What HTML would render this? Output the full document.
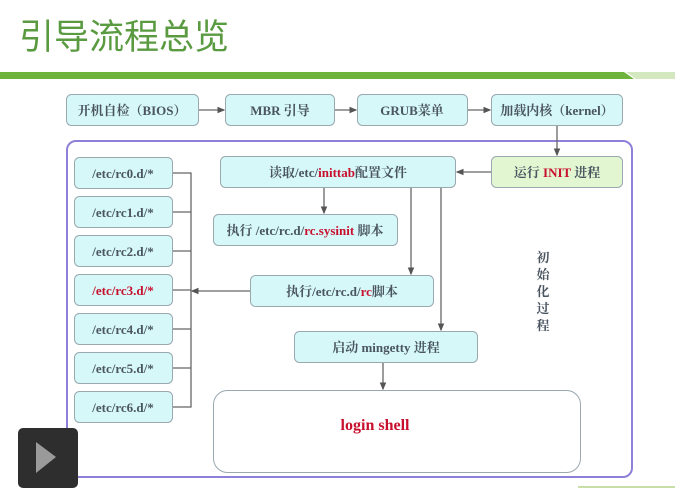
<!DOCTYPE html>
<html><head><meta charset="utf-8"><style>
html,body{margin:0;padding:0;background:#fff;width:675px;height:493px;overflow:hidden}
svg{display:block}
.t{font-family:"Liberation Serif","Noto Serif CJK SC",serif;font-weight:bold;font-size:13px;fill:#4a5560}
.r{fill:#c8102e}
</style></head><body>
<svg width="675" height="493" viewBox="0 0 675 493" xmlns="http://www.w3.org/2000/svg">
<defs><marker id="a" markerWidth="6" markerHeight="6" refX="5" refY="3" orient="auto"><path d="M0,0.5 L6,3 L0,5.5z" fill="#555"/></marker></defs>
<text x="19" y="49" font-family="'Noto Sans CJK SC',sans-serif" font-size="35" fill="#5a9a40">引导流程总览</text>
<polygon points="0,72 624,72 634,79 0,79" fill="#6eb43c"/>
<polygon points="626,72 675,72 675,79 636,79" fill="#d4e8c0"/>
<line x1="578" y1="487" x2="675" y2="487" stroke="#c8e0a8" stroke-width="2"/>
<rect x="67" y="141" width="565" height="336" rx="9" fill="none" stroke="#8e80d8" stroke-width="2"/>
<g fill="#d6f8f8" stroke="#9aa8b0" stroke-width="1">
<rect x="66.5" y="94.5" width="132" height="31" rx="5"/>
<rect x="225.5" y="94.5" width="109" height="31" rx="5"/>
<rect x="357.5" y="94.5" width="110" height="31" rx="5"/>
<rect x="491.5" y="94.5" width="131" height="31" rx="5"/>
<rect x="491.5" y="156.5" width="131" height="31" rx="5" fill="#e2f6d2"/>
<rect x="220.5" y="156.5" width="235" height="31" rx="5"/>
<rect x="213.5" y="214.5" width="184" height="31" rx="5"/>
<rect x="250.5" y="275.5" width="183" height="31" rx="5"/>
<rect x="294.5" y="331.5" width="183" height="31" rx="5"/>
<rect x="74.5" y="157.5" width="98" height="31" rx="5"/>
<rect x="74.5" y="196.5" width="98" height="31" rx="5"/>
<rect x="74.5" y="235.5" width="98" height="31" rx="5"/>
<rect x="74.5" y="274.5" width="98" height="31" rx="5"/>
<rect x="74.5" y="313.5" width="98" height="31" rx="5"/>
<rect x="74.5" y="352.5" width="98" height="31" rx="5"/>
<rect x="74.5" y="391.5" width="98" height="31" rx="5"/>
<rect x="213.5" y="390.5" width="367" height="82" rx="14" fill="#fff"/>
</g>
<g stroke="#666" stroke-width="1.3" fill="none">
<line x1="199" y1="110" x2="224" y2="110" marker-end="url(#a)"/>
<line x1="335" y1="110" x2="356" y2="110" marker-end="url(#a)"/>
<line x1="468" y1="110" x2="490" y2="110" marker-end="url(#a)"/>
<line x1="557" y1="126" x2="557" y2="155" marker-end="url(#a)"/>
<line x1="491" y1="172" x2="457" y2="172" marker-end="url(#a)"/>
<line x1="324" y1="188" x2="324" y2="213" marker-end="url(#a)"/>
<line x1="411" y1="188" x2="411" y2="274" marker-end="url(#a)"/>
<line x1="441" y1="188" x2="441" y2="330" marker-end="url(#a)"/>
<line x1="383" y1="363" x2="383" y2="389" marker-end="url(#a)"/>
<line x1="250" y1="291" x2="192" y2="291" marker-end="url(#a)"/>
<path d="M173,173 H191 V407 H173 M173,212 H191 M173,251 H191 M173,290 H191 M173,329 H191 M173,368 H191"/>
</g>
<g class="t" text-anchor="middle">
<text x="132" y="115">开机自检（BIOS）</text>
<text x="280" y="115">MBR 引导</text>
<text x="412" y="115">GRUB菜单</text>
<text x="557" y="115">加载内核（kernel）</text>
<text x="557" y="177">运行 <tspan class="r">INIT</tspan> 进程</text>
<text x="338" y="177">读取/etc/<tspan class="r">inittab</tspan>配置文件</text>
<text x="305" y="235">执行 /etc/rc.d/<tspan class="r">rc.sysinit</tspan> 脚本</text>
<text x="342" y="296">执行/etc/rc.d/<tspan class="r">rc</tspan>脚本</text>
<text x="386" y="352">启动 mingetty 进程</text>
<text x="123" y="178">/etc/rc0.d/*</text>
<text x="123" y="217">/etc/rc1.d/*</text>
<text x="123" y="256">/etc/rc2.d/*</text>
<text x="123" y="295" class="t r">/etc/rc3.d/*</text>
<text x="123" y="334">/etc/rc4.d/*</text>
<text x="123" y="373">/etc/rc5.d/*</text>
<text x="123" y="412">/etc/rc6.d/*</text>
<text x="375" y="430" class="t r" style="font-size:16px">login shell</text>
<text x="543" y="262">初</text><text x="543" y="279">始</text><text x="543" y="296">化</text><text x="543" y="313">过</text><text x="543" y="330">程</text>
</g>
<rect x="18" y="428" width="60" height="60" rx="5" fill="#2e2e2e"/>
<polygon points="36,442 36,473 56,457" fill="#9a9a9a"/>
</svg>
</body></html>
